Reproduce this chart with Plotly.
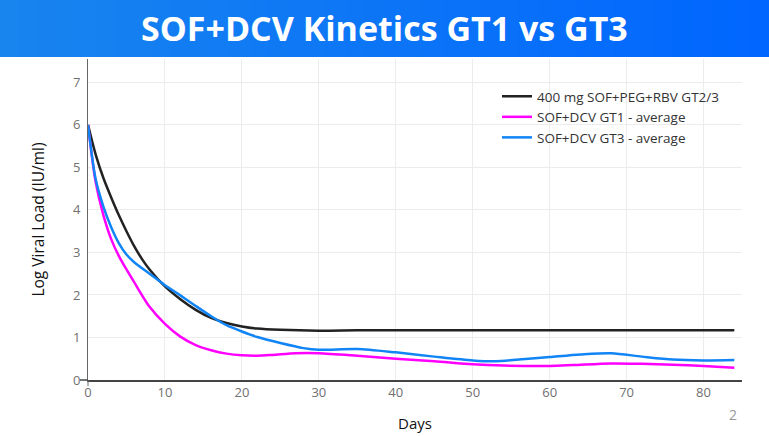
import plotly.graph_objects as go

# ---- data ----
days_peg = [0, 1, 2, 3, 4, 5, 6, 7, 8, 10, 12, 14, 16, 18, 20, 22, 25, 30, 35, 40, 50, 60, 70, 84]
vl_peg = [6.0, 5.3, 4.75, 4.3, 3.88, 3.5, 3.15, 2.85, 2.6, 2.2, 1.9, 1.65, 1.46, 1.34, 1.26, 1.21, 1.18, 1.16, 1.17, 1.17, 1.17, 1.17, 1.17, 1.17]

days_gt1 = [0, 1, 2, 3, 4, 5, 6, 8, 10, 12, 14, 16, 18, 20, 22, 24, 27, 30, 35, 40, 45, 50, 54, 60, 63, 68, 72, 76, 80, 84]
vl_gt1 = [6.0, 4.65, 3.88, 3.32, 2.92, 2.6, 2.3, 1.72, 1.32, 1.02, 0.82, 0.7, 0.62, 0.58, 0.57, 0.59, 0.63, 0.63, 0.57, 0.5, 0.44, 0.37, 0.34, 0.33, 0.35, 0.39, 0.38, 0.36, 0.33, 0.29]

days_gt3 = [0, 1, 2, 3, 4, 5, 6, 8, 10, 12, 14, 16, 18, 20, 22, 25, 28, 30, 35, 40, 45, 50, 53, 56, 60, 64, 68, 72, 76, 80, 84]
vl_gt3 = [6.0, 4.72, 4.08, 3.6, 3.22, 2.95, 2.77, 2.5, 2.23, 1.99, 1.74, 1.5, 1.29, 1.14, 1.01, 0.87, 0.75, 0.71, 0.73, 0.65, 0.55, 0.46, 0.44, 0.48, 0.54, 0.6, 0.63, 0.55, 0.48, 0.46, 0.47]

series_names = ["400 mg SOF+PEG+RBV GT2/3", "SOF+DCV GT1 - average", "SOF+DCV GT3 - average"]
series_colors = ["#222222", "#ff00ff", "#1185f5"]

title_text = "SOF+DCV Kinetics GT1 vs GT3"
x_title = "Days"
y_title = "Log Viral Load (IU/ml)"
page_num = "2"

# ---- geometry ----
W, H = 769, 436
ML, MR, MT, MB = 88, 27, 59, 56
PW = W - ML - MR
PH = H - MT - MB

fig = go.Figure()
for xs, ys, nm, col in zip([days_peg, days_gt1, days_gt3], [vl_peg, vl_gt1, vl_gt3], series_names, series_colors):
    fig.add_trace(go.Scatter(x=xs, y=ys, mode="lines", name=nm,
                             line=dict(color=col, width=2.5, shape="spline", smoothing=0.8)))

shapes = []
# banner gradient
n = 40
c0 = (24, 132, 238)
c1 = (0, 102, 255)
x_left = -ML / PW
x_right = (W - ML) / PW
for i in range(n):
    t = i / (n - 1)
    col = "rgb(%d,%d,%d)" % tuple(round(a + (b - a) * t) for a, b in zip(c0, c1))
    xa = x_left + (x_right - x_left) * i / n
    xb = x_left + (x_right - x_left) * (i + 1) / n + 0.002
    shapes.append(dict(type="rect", xref="paper", yref="paper", x0=xa, x1=xb,
                       y0=(H - MB - 57) / PH, y1=(H - MB) / PH + 0.05,
                       fillcolor=col, line=dict(width=0), layer="above"))
# axis corner extensions
shapes.append(dict(type="line", xref="paper", yref="paper", x0=-8 / PW, x1=0, y0=0, y1=0,
                   line=dict(color="#444", width=1.5)))
shapes.append(dict(type="line", xref="paper", yref="paper", x0=0, x1=0, y0=-6 / PH, y1=0,
                   line=dict(color="#666", width=1)))

fig.update_layout(
    width=W, height=H,
    margin=dict(l=ML, r=MR, t=MT, b=MB, autoexpand=False),
    paper_bgcolor="white", plot_bgcolor="white",
    font=dict(family="Open Sans", color="#444"),
    shapes=shapes,
    showlegend=True,
    legend=dict(x=(497 - ML) / PW, y=(H - MB - 81) / PH, xanchor="left", yanchor="top",
                font=dict(size=13.5, color="#333", family="Open Sans"),
                bgcolor="rgba(0,0,0,0)", tracegroupgap=0, itemwidth=30),
    xaxis=dict(range=[0, 85], dtick=10, showgrid=True, gridcolor="#ececec",
               showline=True, linecolor="#444", linewidth=1.5, zeroline=False,
               tickfont=dict(size=13, color="#707070"), ticks="", automargin=False,
               title=dict(text=x_title, font=dict(size=15, color="#111"), standoff=18)),
    yaxis=dict(range=[0, 7.55], dtick=1, showgrid=True, gridcolor="#ececec",
               showline=True, linecolor="#666", linewidth=1, zeroline=False,
               tickfont=dict(size=13, color="#707070"), ticks="", ticklabelstandoff=4,
               automargin=False,
               title=dict(text=y_title, font=dict(size=15.5, color="#111"), standoff=24)),
    annotations=[
        dict(text="<b>" + title_text + "</b>", xref="paper", yref="paper",
             x=(W / 2 - ML) / PW, y=(H - MB - 28) / PH, xanchor="center", yanchor="middle",
             showarrow=False, font=dict(family="Open Sans", size=34, color="white")),
        dict(text=page_num, xref="paper", yref="paper",
             x=(733 - ML) / PW, y=(H - MB - 414) / PH, xanchor="center", yanchor="middle",
             showarrow=False, font=dict(family="Open Sans", size=14, color="#999")),
    ],
)

fig.write_html("out.html", config={"displayModeBar": False},
               post_script="document.body.style.margin='0';document.body.style.overflow='hidden';")
